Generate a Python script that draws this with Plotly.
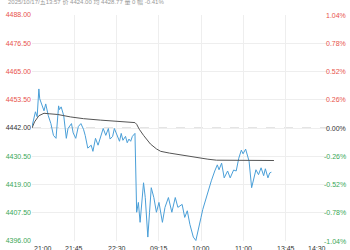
import plotly.graph_objects as go

# ---------------- data ----------------
prev_close = 4442.0
y_ticks = [4396.00, 4407.50, 4419.00, 4430.50, 4442.00, 4453.50, 4465.00, 4476.50, 4488.00]
pct_ticks = ["-1.04%", "-0.78%", "-0.52%", "-0.26%", "0.00%", "0.26%", "0.52%", "0.78%", "1.04%"]
x_labels = ["21:00", "21:45", "22:30", "09:15", "10:00", "11:00", "13:45", "14:30"]
session_minutes = 345

# minute index from 21:00 (trading minutes), price
minute = [0, 2, 4, 6, 8, 9, 11, 14, 16, 19, 22, 25, 28, 31, 32, 34, 37, 40, 42, 46, 48, 51,
          54, 57, 60, 62, 65, 69, 71, 74, 77, 80, 83, 86, 89, 91, 94, 96, 98, 102, 104, 106,
          109, 111, 113, 115, 117, 120,
          122, 124, 126, 128, 130, 132, 135, 137, 139, 142, 145, 148, 152, 155, 159, 163, 167,
          170, 175, 178, 181, 184, 188, 191, 194, 197, 199, 202, 206, 209, 213, 216, 218, 221,
          224, 228, 231, 235, 238, 241, 244, 246, 249, 251, 253, 256, 259, 261, 264, 267, 270,
          272, 275, 277, 279, 281, 282]
price = [4442.6, 4445.8, 4448.6, 4446.6, 4457.9, 4453.9, 4451.8, 4449.0, 4451.8, 4447.0,
         4443.8, 4439.0, 4437.8, 4451.0, 4449.5, 4450.6, 4447.0, 4437.8, 4441.8, 4443.8,
         4440.0, 4437.8, 4442.6, 4443.8, 4441.5, 4439.0, 4433.8, 4435.0, 4432.5, 4437.8,
         4435.0, 4438.5, 4441.8, 4439.0, 4441.8, 4437.5, 4438.6, 4441.8, 4440.0, 4436.6,
         4439.8, 4437.0, 4438.6, 4436.0, 4437.5, 4436.6, 4438.6, 4439.8,
         4407.7, 4411.7, 4403.6, 4413.7, 4419.7, 4413.7, 4397.6, 4407.7, 4417.7, 4413.7,
         4407.7, 4411.7, 4403.6, 4409.7, 4413.7, 4407.7, 4413.7, 4409.7, 4410.9, 4405.6,
         4408.3, 4402.8, 4397.6, 4396.2, 4400.3, 4405.6, 4408.8, 4412.5, 4416.9, 4420.5,
         4424.5, 4427.0, 4425.0, 4427.7, 4421.7, 4424.5, 4421.7, 4424.9, 4424.5, 4429.7,
         4433.0, 4431.5, 4433.4, 4431.0, 4428.5, 4417.7, 4423.0, 4425.0, 4423.0, 4425.8,
         4422.6, 4425.4, 4421.7, 4423.7, 4424.0]
avg_minute = [0, 3, 8, 14, 20, 30, 45, 60, 80, 100, 120, 122, 125, 130, 138, 145, 150, 160,
              170, 180, 195, 205, 215, 240, 282]
avg_price = [4442.0, 4444.5, 4447.0, 4448.0, 4447.8, 4447.5, 4446.5, 4445.8, 4445.2, 4444.6,
             4444.2, 4443.5, 4441.5, 4439.0, 4435.5, 4433.5, 4432.5, 4431.8, 4431.2, 4430.8,
             4430.0, 4429.3, 4428.9, 4428.8, 4428.77]
header = "2025/10/17/五13:57 价 4424.00 均 4428.77 量 0 幅 -0.41%"

RED = "#e8534b"
GREEN = "#3aa757"
DARK = "#333333"
FONT = "Liberation Sans, Arial, sans-serif"

def col(v):
    if v > prev_close:
        return RED
    if v < prev_close:
        return GREEN
    return DARK

fig = go.Figure()
fig.add_trace(go.Scatter(x=minute, y=price, mode="lines",
                         line=dict(color="#4a9fd8", width=1), hoverinfo="skip"))
fig.add_trace(go.Scatter(x=avg_minute, y=avg_price, mode="lines",
                         line=dict(color="#555555", width=1), hoverinfo="skip"))

fig.add_shape(type="line", xref="paper", x0=0, x1=1, yref="y", y0=prev_close, y1=prev_close,
              line=dict(color="#c8c8c8", width=1, dash="dash"), layer="below")

tickvals_x = [session_minutes / 7 * k for k in range(8)]

ticktext_y = ['<span style="color:%s">%.2f</span>' % (col(v), v) for v in y_ticks]

fig.update_layout(
    width=350, height=250,
    margin=dict(l=28, r=22, t=15, b=6),
    paper_bgcolor="white", plot_bgcolor="white",
    showlegend=False,
    font=dict(family=FONT, size=7, color="#333"),
    xaxis=dict(range=[0, session_minutes], tickvals=tickvals_x, showticklabels=False,
               showgrid=True, gridcolor="#eeeeee", gridwidth=1, zeroline=False,
               showline=False, ticks=""),
    yaxis=dict(range=[y_ticks[0], y_ticks[-1]], tickvals=y_ticks, ticktext=ticktext_y,
               showgrid=True, gridcolor="#eeeeee", gridwidth=1, zeroline=False,
               showline=False, ticks="", tickfont=dict(size=7, family=FONT)),
)

anns = []
for v, t in zip(y_ticks, pct_ticks):
    anns.append(dict(xref="paper", x=1, xanchor="right", xshift=20, yref="y", y=v,
                     yanchor="middle", text=t, showarrow=False,
                     font=dict(size=7, color=col(v), family=FONT)))
for i, (xv, t) in enumerate(zip(tickvals_x, x_labels)):
    anchor = "center"
    if i == 0:
        anchor = "left"
    elif i == len(x_labels) - 1:
        anchor = "right"
    anns.append(dict(xref="x", x=xv, xanchor=anchor, yref="paper", y=0, yanchor="top",
                     yshift=-2, text=t, showarrow=False,
                     font=dict(size=7, color="#333", family=FONT)))
anns.append(dict(xref="paper", x=0, xanchor="left", xshift=-26, yref="paper", y=1,
                 yanchor="middle", yshift=13, text=header, showarrow=False,
                 font=dict(size=6, color="#999999", family=FONT + ", Noto Sans CJK SC")))
fig.update_layout(annotations=anns)

fig.write_html("out.html")
